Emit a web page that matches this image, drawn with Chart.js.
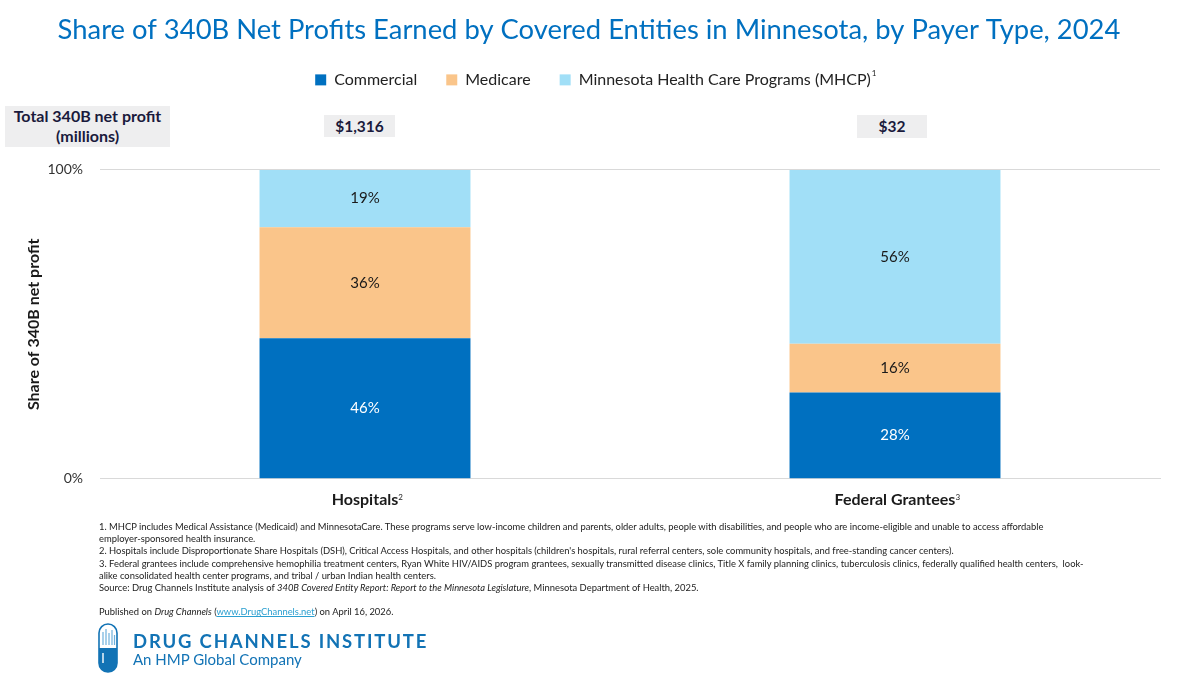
<!DOCTYPE html>
<html>
<head>
<meta charset="utf-8">
<script src="https://cdn.jsdelivr.net/npm/chart.js@4"></script>
<style>
  html, body { margin: 0; padding: 0; background: #fff; }
  body { width: 1200px; height: 675px; position: relative; overflow: hidden; font-family: Lato, "Open Sans", sans-serif; }
  #myChart { position: absolute; left: 0; top: 0; }
  .box { position: absolute; background: #eeeeef; color: #1a1a3c; font-weight: bold; text-align: center; font-size: 15.5px; }
  #notes { position: absolute; left: 99px; top: 521px; font-size: 9.4px; line-height: 12.2px; color: #222; white-space: nowrap; }
  #notes a { color: #2a9fd0; }
  .logo1 { position: absolute; left: 133px; top: 630px; font-size: 18.5px; letter-spacing: 1.82px; color: #1273b5; font-weight: bold; white-space: nowrap; }
  .logo2 { position: absolute; left: 133px; top: 650px; font-size: 15px; color: #1273b5; white-space: nowrap; }
  #capsule { position: absolute; left: 98px; top: 623px; }
</style>
</head>
<body>
<canvas id="myChart" width="1200" height="675"></canvas>
<div class="box" style="left:5px;top:106px;width:165px;height:41px;line-height:20px;font-size:16px">Total 340B net profit<br>(millions)</div>
<div id="totals"></div>
<div id="notes">
1. MHCP includes Medical Assistance (Medicaid) and MinnesotaCare. These programs serve low-income children and parents, older adults, people with disabilities, and people who are income-eligible and unable to access affordable<br>
employer-sponsored health insurance.<br>
2. Hospitals include Disproportionate Share Hospitals (DSH), Critical Access Hospitals, and other hospitals (children's hospitals, rural referral centers, sole community hospitals, and free-standing cancer centers).<br>
3. Federal grantees include comprehensive hemophilia treatment centers, Ryan White HIV/AIDS program grantees, sexually transmitted disease clinics, Title X family planning clinics, tuberculosis clinics, federally qualified health centers,&nbsp; look-<br>
alike consolidated health center programs, and tribal / urban Indian health centers.<br>
Source: Drug Channels Institute analysis of <i>340B Covered Entity Report: Report to the Minnesota Legislature</i>, Minnesota Department of Health, 2025.<br>
<br>
Published on <i>Drug Channels</i> (<a href="#">www.DrugChannels.net</a>) on April 16, 2026.
</div>
<svg id="capsule" width="20" height="50" viewBox="0 0 20 50">
  <rect x="1" y="1" width="18" height="48" rx="9" ry="9" fill="#fff" stroke="#1273b5" stroke-width="1.6"/>
  <path d="M1 25 H19 V40 A9 9 0 0 1 1 40 Z" fill="#1273b5"/>
  <path d="M5 22 V9 M8 22 V6 M11 22 V10 M14 22 V7 M16.5 22 V12" stroke="#6fb1dc" stroke-width="1.2"/>
  <path d="M5 30 V40" stroke="#fff" stroke-width="1.4"/>
</svg>
<div class="logo1">DRUG CHANNELS INSTITUTE</div>
<div class="logo2">An HMP Global Company</div>
<script>
const categories = ["Hospitals", "Federal Grantees"];
const categoryNotes = ["2", "3"];
const commercial = [45.5, 27.9];
const medicare = [35.9, 15.8];
const mhcp = [18.6, 56.3];
const totals = ["$1,316", "$32"];
const tickLabels = { 0: "0%", 100: "100%" };

const ctx = document.getElementById("myChart").getContext("2d");
const FONT = "Lato, 'Open Sans', sans-serif";

// leaves room under the legend and nudges it to the right
const legendRoom = {
  id: "legendRoom",
  beforeInit(chart) {
    const fit = chart.legend.fit;
    chart.legend.fit = function () {
      fit.call(this);
      this.height += 72;
    };
  },
  afterLayout(chart) {
    chart.legend.left += 4;
    chart.legend.right += 4;
  },
};

// bar values, drawn on top of each segment
const valueLabels = {
  id: "valueLabels",
  afterDatasetsDraw(chart) {
    const c = chart.ctx;
    c.save();
    c.font = "15px " + FONT;
    c.textAlign = "center";
    c.textBaseline = "middle";
    chart.data.datasets.forEach((ds, i) => {
      chart.getDatasetMeta(i).data.forEach((bar, j) => {
        c.fillStyle = i === 0 ? "#ffffff" : "#1a1a1a";
        const mid = (bar.y + bar.base) / 2;
        c.fillText(Math.round(ds.data[j]) + "%", bar.x, mid);
      });
    });
    c.restore();
  },
};

// superscripts next to the category labels and the legend
const superscripts = {
  id: "superscripts",
  afterDraw(chart) {
    const c = chart.ctx;
    const x = chart.scales.x;
    c.save();
    c.fillStyle = "#1a1a1a";
    c.textAlign = "left";
    c.textBaseline = "alphabetic";
    categories.forEach((name, i) => {
      c.font = "bold 16px " + FONT;
      const w = c.measureText(name).width;
      c.font = "8px " + FONT;
      c.fillText(categoryNotes[i], x.getPixelForValue(i) + w / 2, 500);
    });
    const last = chart.legend.legendHitBoxes[2];
    c.font = "8px " + FONT;
    c.fillText("1", last.left + last.width + 1, 76);
    c.restore();
  },
};

new Chart(ctx, {
  type: "bar",
  data: {
    labels: categories,
    datasets: [
      { label: "Commercial", data: commercial, backgroundColor: "#0070c0" },
      { label: "Medicare", data: medicare, backgroundColor: "#fac58a" },
      { label: "Minnesota Health Care Programs (MHCP)", data: mhcp, backgroundColor: "#a1dff7" },
    ],
  },
  options: {
    responsive: false,
    animation: false,
    barPercentage: 0.398,
    categoryPercentage: 1,
    layout: { padding: { left: 18, right: 40, top: 0, bottom: 163 } },
    plugins: {
      title: {
        display: true,
        text: "Share of 340B Net Profits Earned by Covered Entities in Minnesota, by Payer Type, 2024",
        color: "#0070c0",
        font: { family: FONT, size: 27.4, weight: "normal" },
        padding: { top: 14, bottom: -4 },
      },
      legend: {
        position: "top",
        labels: {
          color: "#222",
          font: { family: FONT, size: 16 },
          boxWidth: 11,
          boxHeight: 11,
          padding: 29,
        },
      },
      tooltip: { enabled: false },
    },
    scales: {
      x: {
        stacked: true,
        grid: { display: false },
        border: { color: "#d9d9d9" },
        ticks: { color: "#1a1a1a", font: { family: FONT, size: 16, weight: "bold" }, padding: 3 },
      },
      y: {
        stacked: true,
        min: 0,
        max: 100,
        afterFit(scale) { scale.width = 82; },
        grid: { color: "#d9d9d9", drawTicks: false },
        border: { display: false },
        ticks: {
          stepSize: 100,
          padding: 17,
          color: "#333",
          font: { family: FONT, size: 14 },
          callback: (v) => tickLabels[v],
        },
        title: {
          display: true,
          text: "Share of 340B net profit",
          color: "#1a1a1a",
          font: { family: FONT, size: 16, weight: "bold" },
          padding: { top: 6, bottom: 4 },
        },
      },
    },
  },
  plugins: [legendRoom, valueLabels, superscripts],
});

// total boxes above the bars
const boxes = [{ left: 324, top: 115, width: 71, height: 22 }, { left: 857, top: 115, width: 70, height: 23 }];
totals.forEach((t, i) => {
  const d = document.createElement("div");
  d.className = "box";
  d.textContent = t;
  d.style.cssText = `left:${boxes[i].left}px;top:${boxes[i].top}px;width:${boxes[i].width}px;height:${boxes[i].height}px;line-height:${boxes[i].height}px`;
  document.getElementById("totals").appendChild(d);
});
</script>
</body>
</html>
